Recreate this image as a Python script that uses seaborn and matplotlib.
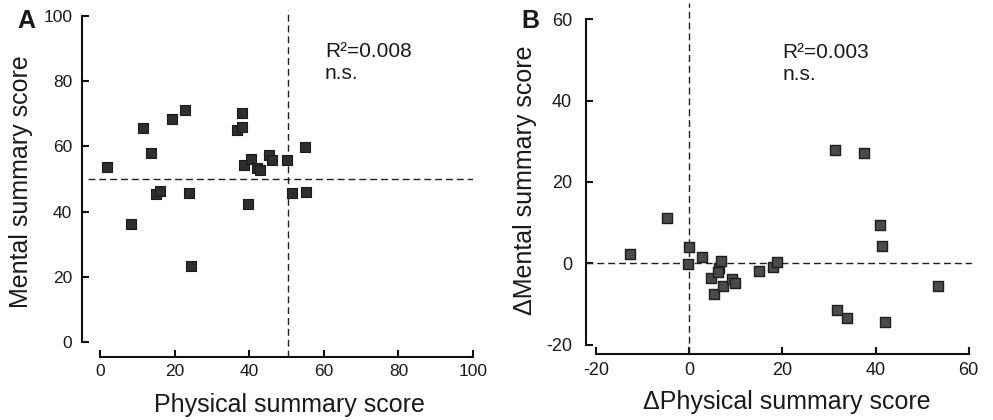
import pandas as pd
import matplotlib
matplotlib.use('Agg')
import matplotlib.pyplot as plt
import seaborn as sns

# Panel A: absolute scores
phys_a = [2.0, 8.2, 11.6, 13.6, 19.4, 22.9, 15.1, 16.2, 23.9, 24.4, 36.8, 38.2,
          38.2, 38.7, 40.4, 39.8, 42.2, 42.8, 45.3, 46.1, 50.1, 51.5, 55.0, 55.3]
ment_a = [53.8, 36.1, 65.6, 58.1, 68.4, 71.0, 45.3, 46.4, 45.8, 23.4, 65.0, 70.2,
          66.0, 54.3, 56.2, 42.2, 53.5, 52.6, 57.3, 55.8, 55.8, 45.8, 59.9, 45.9]

# Panel B: changes in scores
phys_b = [-12.8, -4.7, 0.0, -0.2, 2.7, 4.6, 5.3, 6.4, 6.2, 6.7, 7.3, 9.1,
          9.8, 15.0, 18.0, 18.9, 31.3, 37.4, 41.0, 41.4, 53.3, 31.8, 33.8, 42.1]
ment_b = [2.2, 11.2, 3.9, -0.2, 1.6, -3.6, -7.6, -1.2, -2.2, 0.6, -5.6, -3.9,
          -4.9, -1.8, -1.0, 0.2, 27.8, 27.1, 9.3, 4.2, -5.6, -11.5, -13.4, -14.5]

REF_A = (50.5, 50)   # dashed reference lines, panel A (x, y)
REF_B = (0, 0)

sns.set_style('ticks')
plt.rcParams['font.family'] = ['Liberation Sans', 'DejaVu Sans']
plt.rcParams['text.color'] = '#1a1a1a'
plt.rcParams['axes.labelcolor'] = '#1a1a1a'
plt.rcParams['axes.unicode_minus'] = False

fig = plt.figure(figsize=(9.93, 4.2), dpi=100)
ax_a = fig.add_axes([82 / 993, 63 / 420, 391 / 993, 347 / 420])
ax_b = fig.add_axes([586 / 993, 66 / 420, 386 / 993, 351 / 420])

df_a = pd.DataFrame({'phys': phys_a, 'ment': ment_a})
df_b = pd.DataFrame({'phys': phys_b, 'ment': ment_b})

sns.scatterplot(data=df_a, x='phys', y='ment', ax=ax_a, marker='s', s=46,
                color='#2e2e2e', edgecolor='#1a1a1a', linewidth=0.8, zorder=3)
sns.scatterplot(data=df_b, x='phys', y='ment', ax=ax_b, marker='s', s=42,
                color='#4a4a4a', edgecolor='#1e1e1e', linewidth=1.0, zorder=3)

dash = (0, (5, 2.8))
ax_a.axhline(REF_A[1], xmin=0.015, color='#222222', lw=1.0, ls=dash)
ax_a.axvline(REF_A[0], color='#222222', lw=1.0, ls=dash)
ax_b.axhline(REF_B[1], color='#222222', lw=1.0, ls=dash)
ax_b.axvline(REF_B[0], color='#222222', lw=1.0, ls=dash)

ax_a.set(xlim=(-4.8, 100), ylim=(-4.6, 101.8),
         xticks=[0, 20, 40, 60, 80, 100], yticks=[0, 20, 40, 60, 80, 100])
ax_b.set(xlim=(-22.2, 60.7), ylim=(-22.3, 64),
         xticks=[-20, 0, 20, 40, 60], yticks=[-20, 0, 20, 40, 60])

for ax, lo, hi, ypad, xpad, fs in [(ax_a, 0, 100, 7, 5, 12.5), (ax_b, -20, 60, 10, 6, 13)]:
    for side in ['top', 'right']:
        ax.spines[side].set_visible(False)
    ax.spines['left'].set_bounds(lo, hi)
    ax.spines['bottom'].set_bounds(lo, hi)
    for side in ['left', 'bottom']:
        ax.spines[side].set_linewidth(1.5)
        ax.spines[side].set_color('#111111')
    ax.tick_params(direction='in', length=5, width=1.5, colors='#111111',
                   labelcolor='#1a1a1a', labelsize=fs)
    ax.tick_params(axis='y', pad=ypad)
    ax.tick_params(axis='x', pad=xpad)
    ax.set_facecolor('white')

ax_a.set_xlabel('Physical summary score', fontsize=18)
ax_a.set_ylabel('Mental summary score', fontsize=18)
ax_b.set_xlabel('\u0394Physical summary score', fontsize=18)
ax_b.set_ylabel('\u0394Mental summary score', fontsize=18)
ax_a.xaxis.set_label_coords(0.53, -0.104)
ax_a.yaxis.set_label_coords(-0.125, 0.506)
ax_b.xaxis.set_label_coords(0.521, -0.103)
ax_b.yaxis.set_label_coords(-0.128, 0.496)

ax_a.text(60.3, 92.0, 'R\u00b2=0.008\nn.s.', fontsize=15, va='top', ha='left')
ax_b.text(20.0, 54.1, 'R\u00b2=0.003\nn.s.', fontsize=15, va='top', ha='left')

fig.text(26 / 993, 1 - 20.5 / 420, 'A', fontsize=18, fontweight='bold', ha='center', va='center')
fig.text(530.5 / 993, 1 - 21 / 420, 'B', fontsize=18, fontweight='bold', ha='center', va='center')

fig.savefig('out.png', dpi=100, facecolor='white')
